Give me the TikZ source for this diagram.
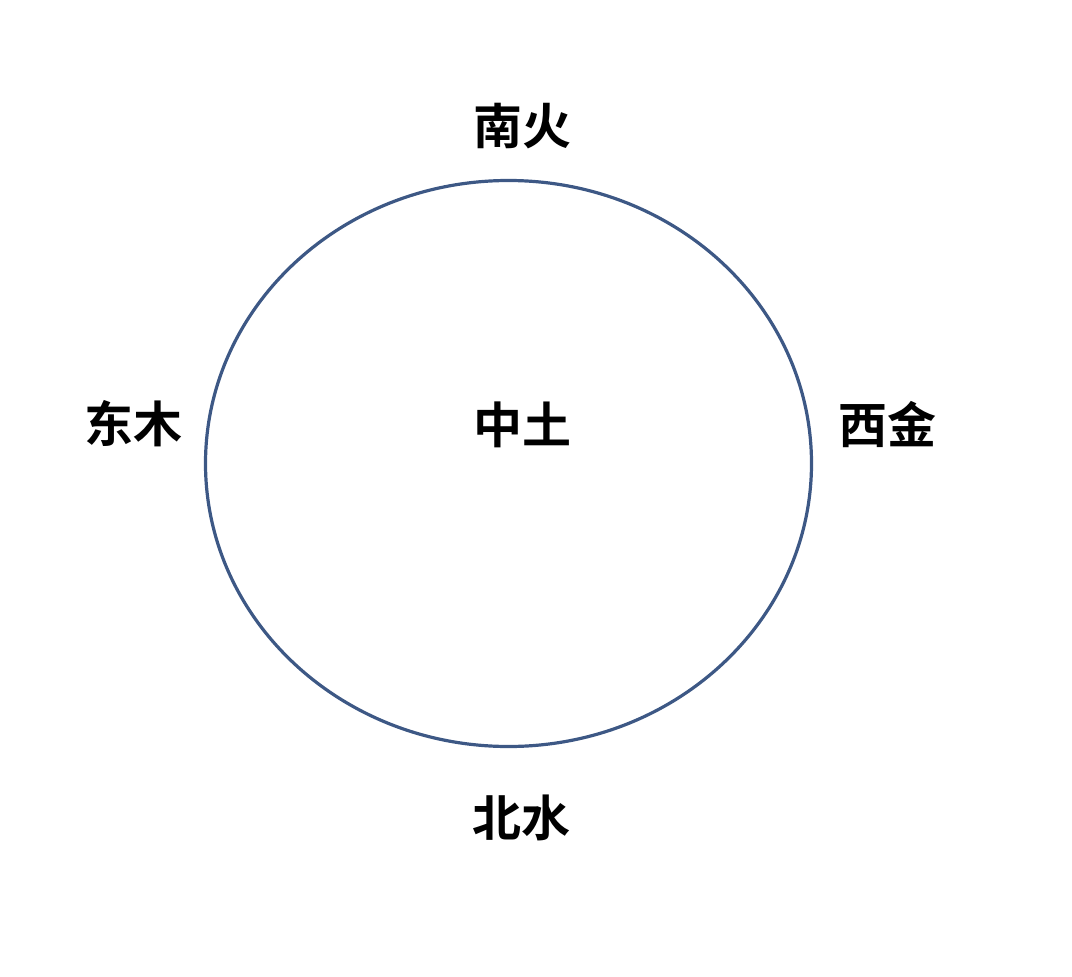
\documentclass[tikz,border=0pt]{standalone}
\usepackage{fontspec}
\newfontfamily\cjk{Noto Sans CJK SC Bold}
\usetikzlibrary{shapes.geometric}
\definecolor{ringblue}{HTML}{3D5885}

\begin{document}
\begin{tikzpicture}[x=1pt,y=-1pt,thick,
      ring node/.style={ellipse,draw=ringblue,line width=3.2pt,minimum width=606pt,minimum height=566pt,inner sep=0pt},
      dir node/.style={font=\cjk\fontsize{49}{49}\selectfont,inner sep=0pt}]
    \useasboundingbox (0,0) rectangle (1072,977);

    \node[ring node] (ring) at (508.5,463.5) {};
    \node[dir node] (south) at (522,126) {南火};
    \node[dir node] (east) at (133,424) {东木};
    \node[dir node] (centre) at (522,425) {中土};
    \node[dir node] (west) at (887,425) {西金};
    \node[dir node] (north) at (521,818) {北水};
\end{tikzpicture}
\end{document}
